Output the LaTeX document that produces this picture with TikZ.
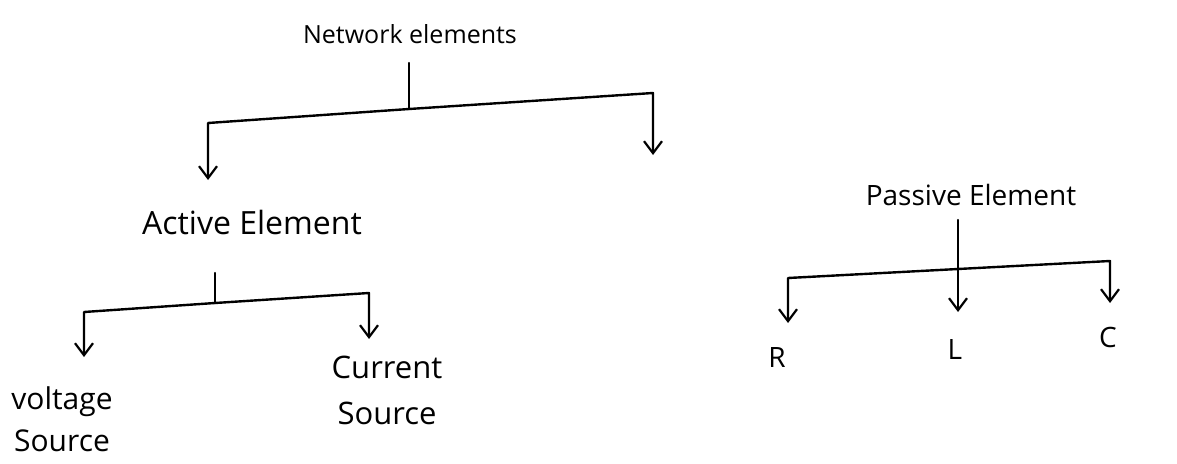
\documentclass[tikz,border=0pt]{standalone}
\usepackage{fontspec}
\setmainfont{Open Sans}
\usetikzlibrary{arrows.meta}
\begin{document}
\begin{tikzpicture}[x=1pt,y=-1pt,
  lbl/.style={inner sep=0pt, align=center},
  small/.style={lbl, font=\fontsize{25}{40}\selectfont},
  mid/.style={lbl, font=\fontsize{28}{40}\selectfont},
  big/.style={lbl, font=\fontsize{31}{46}\selectfont},
  low/.style={lbl, font=\fontsize{30}{42}\selectfont},
  head/.style={lbl, font=\fontsize{32}{40}\selectfont},
  wire/.style={line width=2.4pt, line cap=round, line join=round},
  arr/.style={wire, -{Straight Barb[length=12pt,width=18pt,line width=2.2pt]}}]
\useasboundingbox (0,0) rectangle (1177,463);

% labels
\node[small] (net) at (410,34)  {Network elements};
\node[head]  (act) at (252,222) {Active Element};
\node[mid]   (pas) at (971,195) {Passive Element};
\node[low]   (vs)  at (62,419)  {voltage\\Source};
\node[big]   (cs)  at (387,390) {Current\\Source};
\node[mid]   (r)   at (777,358) {R};
\node[mid]   (l)   at (955,350) {L};
\node[mid]   (c)   at (1108,337) {C};

% top level branching
\coordinate (t0) at (409,63);
\coordinate (tj) at (409,109);
\coordinate (tl) at (208,123);
\coordinate (tr) at (653,93);
\coordinate (ta) at (208,180);
\coordinate (tb) at (653,155);
\draw[wire] (t0) -- (tj);
\draw[arr] (tj) -- (tl) -- (ta);
\draw[arr] (tj) -- (tr) -- (tb);

% active branch
\coordinate (a0) at (215,273);
\coordinate (aj) at (215,303);
\coordinate (al) at (84,312);
\coordinate (ar) at (369,293);
\coordinate (aa) at (84,357);
\coordinate (ab) at (369,339);
\draw[wire] (a0) -- (aj);
\draw[arr] (aj) -- (al) -- (aa);
\draw[arr] (aj) -- (ar) -- (ab);

% passive branch
\coordinate (p0) at (958,220);
\coordinate (pj) at (958,269);
\coordinate (pl) at (788,278);
\coordinate (pr) at (1110,261);
\coordinate (pa) at (788,323);
\coordinate (pb) at (958,312);
\coordinate (pc) at (1110,303);
\draw[wire] (p0) -- (pj);
\draw[arr] (pj) -- (pl) -- (pa);
\draw[arr] (pj) -- (pb);
\draw[arr] (pj) -- (pr) -- (pc);
\end{tikzpicture}
\end{document}
